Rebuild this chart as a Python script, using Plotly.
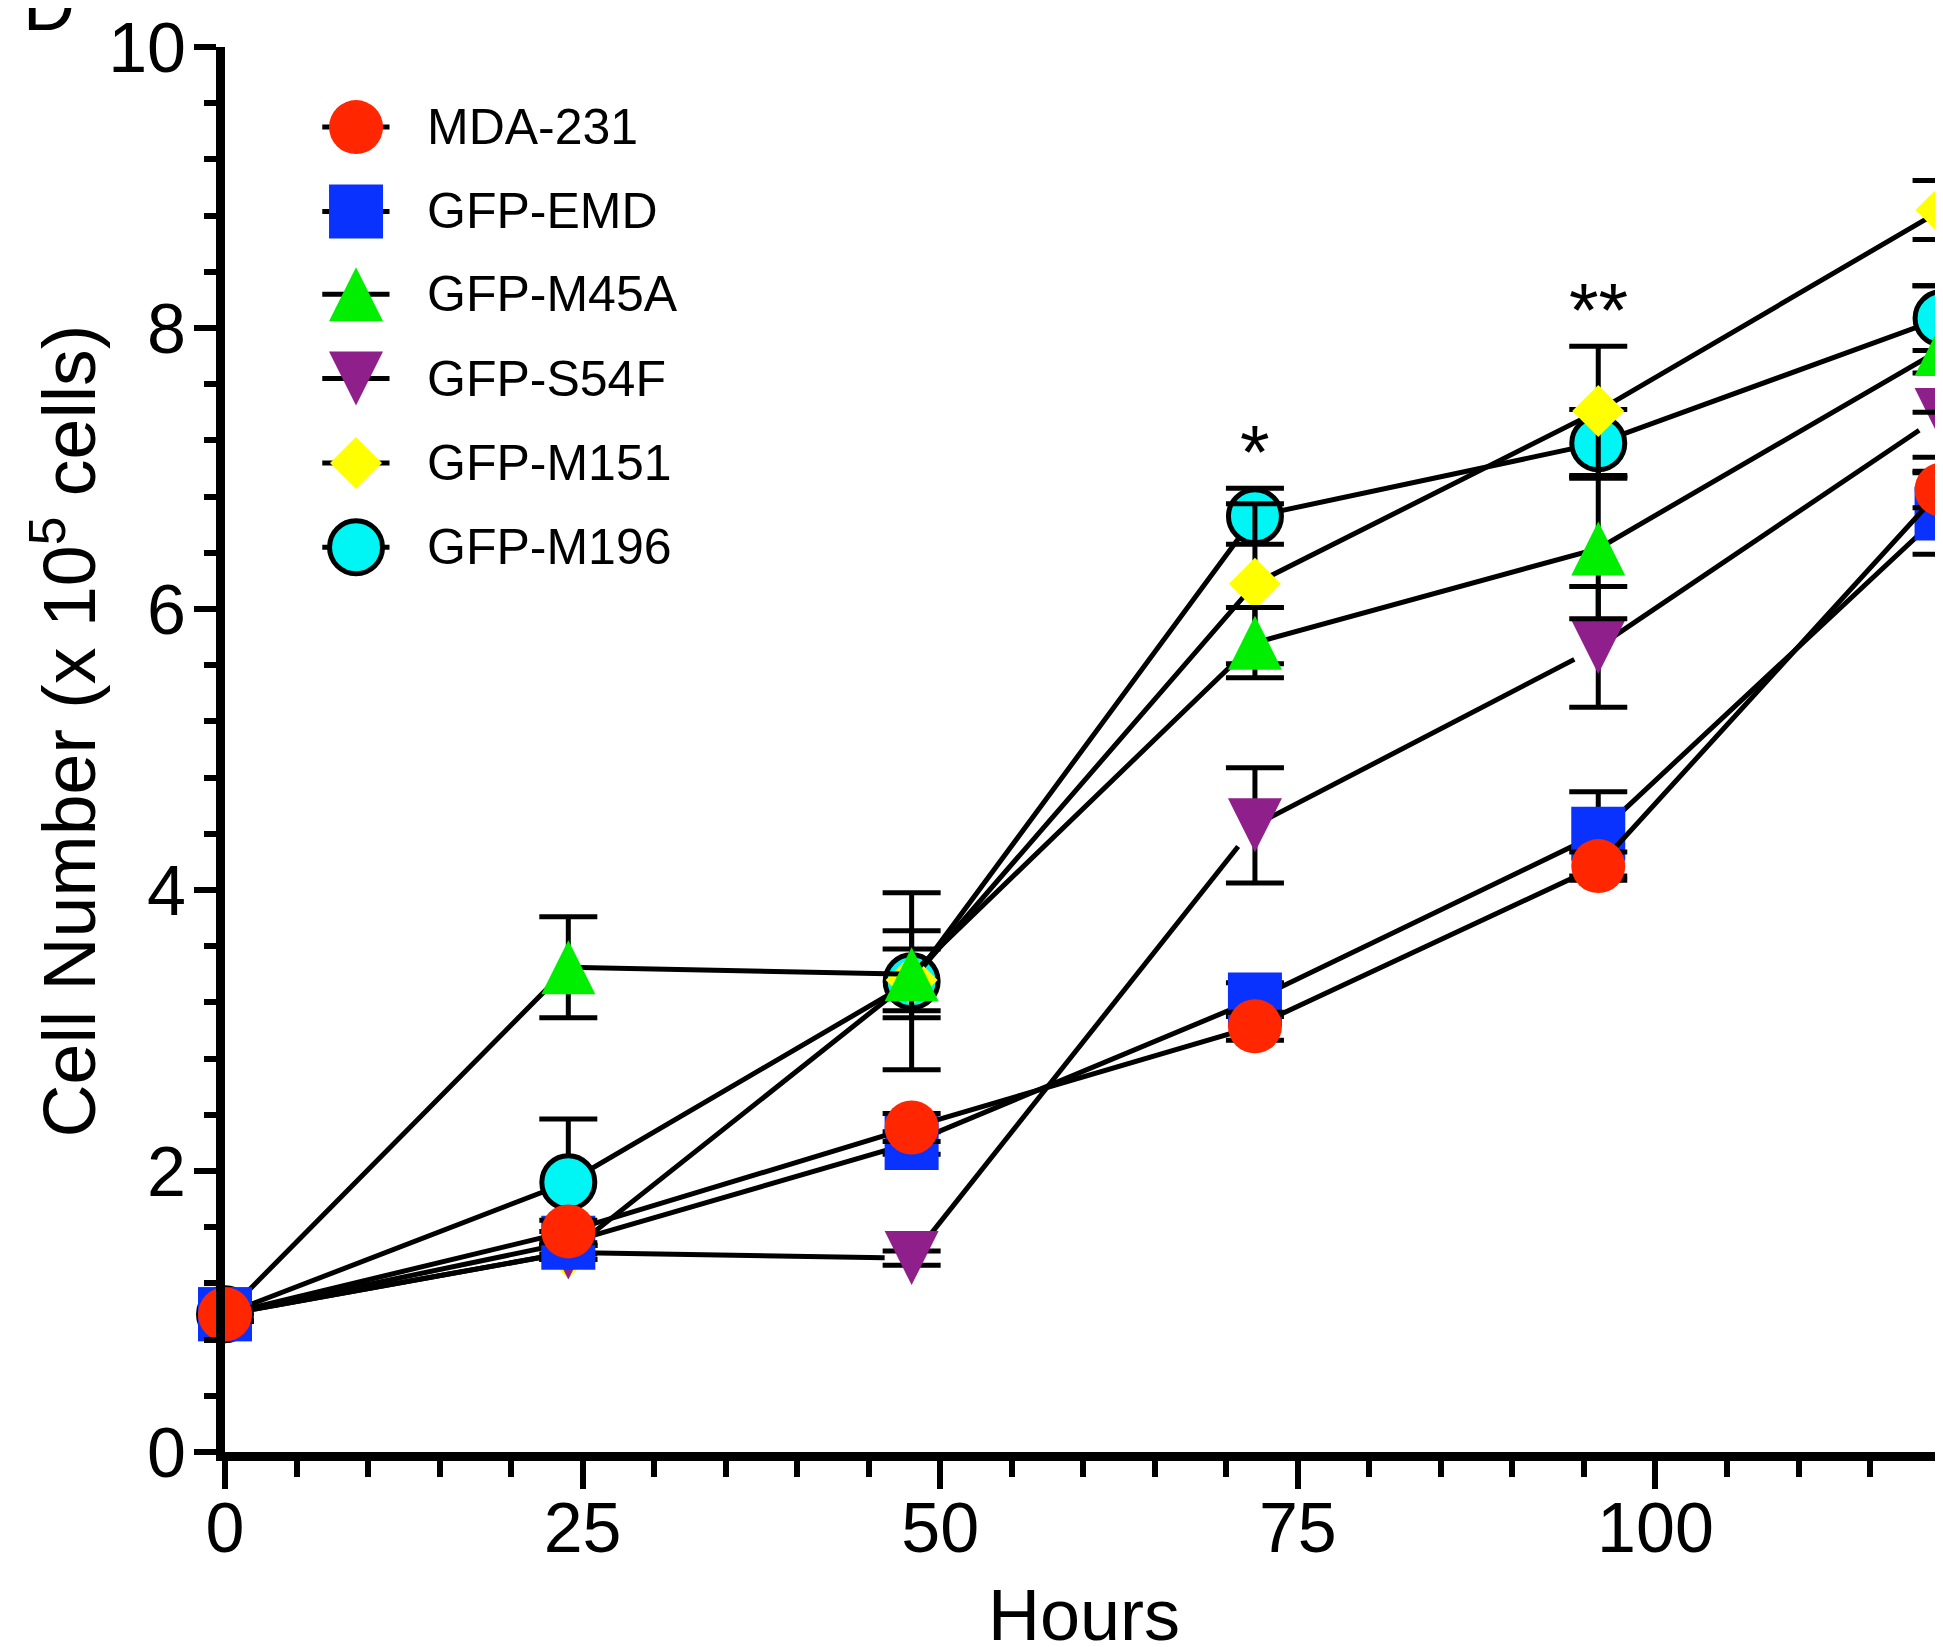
import plotly.graph_objects as go

# ---------------- data ----------------
hours = [0, 24, 48, 72, 96, 120]
series_names = ["MDA-231", "GFP-EMD", "GFP-M45A", "GFP-S54F", "GFP-M151", "GFP-M196"]

mda231 = [0.98, 1.57, 2.31, 3.03, 4.17, 6.85]
mda231_sd = [0.05, 0.08, 0.10, 0.10, 0.10, 0.13]
gfp_emd = [0.98, 1.49, 2.20, 3.22, 4.40, 6.68]
gfp_emd_sd = [0.05, 0.08, 0.08, 0.12, 0.30, 0.29]
gfp_m45a = [0.98, 3.45, 3.40, 5.76, 6.43, 7.85]
gfp_m45a_sd = [0.05, 0.36, 0.31, 0.25, 0.50, 0.45]
gfp_s54f = [0.98, 1.42, 1.38, 4.46, 5.73, 7.38]
gfp_s54f_sd = [0.05, 0.05, 0.05, 0.41, 0.43, 0.30]
gfp_m151 = [0.98, 1.42, 3.36, 6.18, 7.41, 8.84]
gfp_m151_sd = [0.05, 0.05, 0.22, 0.57, 0.46, 0.21]
gfp_m196 = [0.98, 1.92, 3.35, 6.66, 7.18, 8.07]
gfp_m196_sd = [0.05, 0.45, 0.63, 0.20, 0.24, 0.23]

x_tick_vals = [0, 25, 50, 75, 100]
y_tick_vals = [0, 2, 4, 6, 8, 10]

sig_hours = [72, 96]
sig_labels = ["*", "**"]
sig_y = [7.12, 8.13]

# ---------------- styles ----------------
FONT = "Arial, Liberation Sans, Helvetica, sans-serif"
TRI = 54
styles = {
    "MDA-231": dict(symbol="circle", size=54, color="#FF2600", lw=0, angle=0, standoff=0),
    "GFP-EMD": dict(symbol="square", size=54, color="#0A32FF", lw=0, angle=0, standoff=0),
    "GFP-M45A": dict(symbol="arrow-down", size=TRI, color="#00EE00", lw=0, angle=180, standoff=TRI / 2),
    "GFP-S54F": dict(symbol="arrow-down", size=TRI, color="#8E1F8B", lw=0, angle=0, standoff=TRI / 2),
    "GFP-M151": dict(symbol="diamond", size=40, color="#FFFF00", lw=0, angle=0, standoff=0),
    "GFP-M196": dict(symbol="circle", size=53, color="#00F5F5", lw=5, angle=0, standoff=0),
}
values = {
    "MDA-231": (mda231, mda231_sd),
    "GFP-EMD": (gfp_emd, gfp_emd_sd),
    "GFP-M45A": (gfp_m45a, gfp_m45a_sd),
    "GFP-S54F": (gfp_s54f, gfp_s54f_sd),
    "GFP-M151": (gfp_m151, gfp_m151_sd),
    "GFP-M196": (gfp_m196, gfp_m196_sd),
}


def marker_of(st):
    return dict(symbol=st["symbol"], size=st["size"], color=st["color"],
                angle=st["angle"], standoff=st["standoff"],
                line=dict(color="black", width=st["lw"]))


fig = go.Figure()

draw_order = ["GFP-M196", "GFP-M151", "GFP-S54F", "GFP-M45A", "GFP-EMD", "MDA-231"]
for name in draw_order:
    ys, sd = values[name]
    fig.add_trace(go.Scatter(
        x=hours, y=ys, name=name, mode="lines+markers",
        line=dict(color="black", width=5),
        marker=marker_of(styles[name]),
        error_y=dict(type="data", array=sd, visible=True, color="black",
                     thickness=5, width=29),
        cliponaxis=False, showlegend=False,
    ))

# ---------------- custom legend (drawn in axis coordinates) ----------------
LEG_X_MARK = 9.16
LEG_X0, LEG_X1 = 6.8, 11.5
LEG_X_TEXT = 14.0
LEG_Y = [9.43, 8.83, 8.24, 7.64, 7.04, 6.44]
for name, ly in zip(series_names, LEG_Y):
    fig.add_trace(go.Scatter(x=[LEG_X0, LEG_X1], y=[ly, ly], mode="lines",
                             line=dict(color="black", width=5),
                             showlegend=False, hoverinfo="skip", cliponaxis=False))
    fig.add_trace(go.Scatter(x=[LEG_X_MARK], y=[ly], mode="markers",
                             marker=marker_of(styles[name]),
                             showlegend=False, hoverinfo="skip", cliponaxis=False))
    fig.add_annotation(x=LEG_X_TEXT, y=ly, xref="x", yref="y", text=name,
                       showarrow=False, xanchor="left", yanchor="middle",
                       font=dict(family=FONT, size=50, color="black"))

for hx, lab, sy in zip(sig_hours, sig_labels, sig_y):
    fig.add_annotation(x=hx, y=sy, xref="x", yref="y", text=lab, showarrow=False,
                       xanchor="center", yanchor="middle",
                       font=dict(family=FONT, size=76, color="black"))

# axis titles and panel letter
fig.add_annotation(x=0.5, y=-0.1163, xref="paper", yref="paper", text="Hours",
                   showarrow=False, xanchor="center", yanchor="middle",
                   font=dict(family=FONT, size=72, color="black"))
fig.add_annotation(x=-0.0937, y=0.5128, xref="paper", yref="paper",
                   text="Cell Number (x 10<sup>5</sup> cells)", textangle=-90,
                   showarrow=False, xanchor="center", yanchor="middle",
                   font=dict(family=FONT, size=73.5, color="black"))
fig.add_annotation(x=-0.1188, y=1.0, xref="paper", yref="paper", text="D",
                   showarrow=False, xanchor="left", yanchor="bottom",
                   font=dict(family=FONT, size=72, color="black"))

# The page places the figure 8 px in from the top-left corner (body margin),
# so the figure is sized to end exactly at the 1943x1647 window edge.
fig.update_layout(
    width=1935, height=1639,
    margin=dict(l=217, r=0, t=34, b=195, pad=0),
    paper_bgcolor="white", plot_bgcolor="white",
    showlegend=False,
    font=dict(family=FONT, color="black"),
    xaxis=dict(range=[0, 120.1], tickmode="array", tickvals=x_tick_vals,
               ticktext=[str(v) for v in x_tick_vals],
               ticks="outside", ticklen=28, tickwidth=6, tickcolor="black",
               showline=True, linewidth=9, linecolor="black",
               showgrid=False, zeroline=False, ticklabelstandoff=-21,
               ticklabeloverflow="allow",
               tickfont=dict(family=FONT, size=70, color="black"),
               minor=dict(dtick=5, tick0=0, ticks="outside", ticklen=16,
                          tickwidth=6, tickcolor="black", showgrid=False)),
    yaxis=dict(range=[0, 10], tickmode="array", tickvals=y_tick_vals,
               ticktext=[str(v) for v in y_tick_vals],
               ticks="outside", ticklen=22, tickwidth=6, tickcolor="black",
               showline=True, linewidth=9, linecolor="black",
               showgrid=False, zeroline=False, ticklabelstandoff=-6,
               ticklabeloverflow="allow",
               tickfont=dict(family=FONT, size=70, color="black"),
               minor=dict(dtick=0.4, tick0=0, ticks="outside", ticklen=12,
                          tickwidth=6, tickcolor="black", showgrid=False)),
)

fig.write_html("out.html")
